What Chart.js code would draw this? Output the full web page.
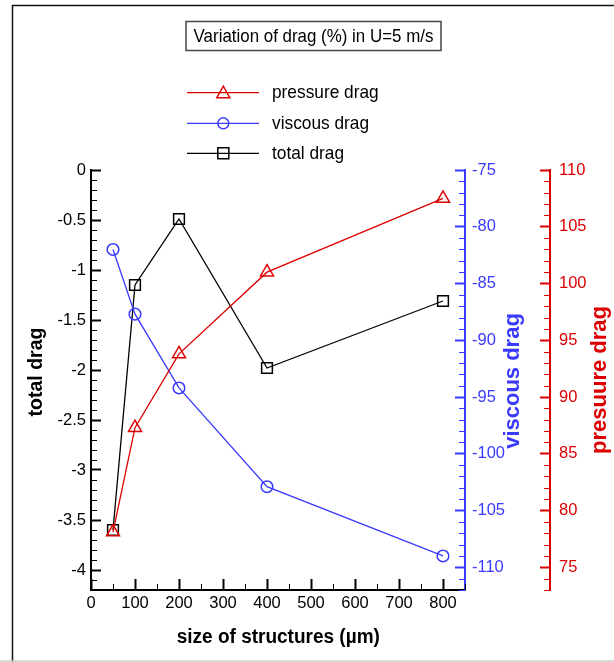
<!DOCTYPE html>
<html><head><meta charset="utf-8">
<script src="https://cdn.jsdelivr.net/npm/chart.js@4.4.0/dist/chart.umd.min.js"></script>
<style>
html,body{margin:0;padding:0;background:#fff;}
#wrap{position:relative;width:614px;height:662px;overflow:hidden;}
canvas{position:absolute;left:0;top:0;}
</style></head><body>
<div id="wrap"><canvas id="c" width="614" height="662"></canvas></div>
<script>
const sizes = [50, 100, 200, 400, 800];
const pressureDrag = [78.1, 87.3, 93.8, 101.0, 107.5];
const viscousDrag = [-82.0, -87.7, -94.2, -102.9, -109.0];
const totalDrag = [-3.60, -1.15, -0.49, -1.98, -1.31];
const seriesNames = ['pressure drag', 'viscous drag', 'total drag'];
const chartTitle = 'Variation of drag (%) in U=5 m/s';
const xAxisTitle = 'size of structures (µm)';
const yAxisTitles = ['total drag', 'viscous drag', 'presuure drag'];

const RED = '#dd0000', BLUE = '#3a3aff', BLACK = '#000000';
const FAM = '"Liberation Sans", Arial, Helvetica, sans-serif';

const toPts = ys => sizes.map((x, i) => ({x: x, y: ys[i]}));
const fmt = v => String(Math.round(v * 10) / 10);

const minorTicks = {
  id: 'minorTicks',
  afterDraw(chart) {
    const ctx = chart.ctx;
    const defs = [
      {id: 'x', step: 50, major: 100, color: BLACK},
      {id: 'y', step: 0.1, major: 0.5, color: BLACK},
      {id: 'yv', step: 1, major: 5, color: BLUE},
      {id: 'yp', step: 1, major: 5, color: RED}
    ];
    defs.forEach(d => {
      const s = chart.scales[d.id];
      ctx.save();
      ctx.strokeStyle = d.color;
      ctx.lineWidth = 1;
      const start = Math.ceil(s.min / d.step - 1e-6);
      const end = Math.floor(s.max / d.step + 1e-6);
      for (let k = start; k <= end; k++) {
        const v = k * d.step;
        const r = v / d.major;
        if (Math.abs(r - Math.round(r)) < 1e-6) continue;
        const p = Math.round(s.getPixelForValue(v)) + 0.5;
        ctx.beginPath();
        if (d.id === 'x') { ctx.moveTo(p, s.top); ctx.lineTo(p, s.top - 6); }
        else if (d.id === 'y') { ctx.moveTo(s.right, p); ctx.lineTo(s.right + 6, p); }
        else { ctx.moveTo(s.left, p); ctx.lineTo(s.left - 6, p); }
        ctx.stroke();
      }
      ctx.restore();
    });
  }
};

function marker(ctx, style, x, y, color) {
  ctx.save();
  ctx.strokeStyle = color; ctx.lineWidth = 1.5;
  ctx.beginPath();
  if (style === 'triangle') {
    ctx.moveTo(x, y - 6.5); ctx.lineTo(x + 6.5, y + 5); ctx.lineTo(x - 6.5, y + 5); ctx.closePath();
  } else if (style === 'circle') {
    ctx.arc(x, y, 5.5, 0, Math.PI * 2);
  } else {
    ctx.rect(x - 5.5, y - 5.5, 11, 11);
  }
  ctx.stroke();
  ctx.restore();
}

// text drawn slightly condensed (taller glyphs at the same width), like the reference
function condensedText(ctx, txt, x, y, font, sx, align) {
  ctx.save();
  ctx.translate(x, y);
  ctx.scale(sx, 1);
  ctx.font = font;
  ctx.textAlign = align;
  ctx.textBaseline = 'middle';
  ctx.fillText(txt, 0, 0);
  ctx.restore();
}

const decor = {
  id: 'decor',
  beforeDraw(chart) {
    const ctx = chart.ctx;
    ctx.save();
    ctx.fillStyle = '#fff'; ctx.fillRect(0, 0, 614, 662);
    ctx.strokeStyle = '#111'; ctx.lineWidth = 1.5;
    ctx.beginPath(); ctx.moveTo(12.5, 662); ctx.lineTo(12.5, 5.5); ctx.lineTo(614, 5.5); ctx.stroke();
    ctx.strokeStyle = '#cccccc'; ctx.lineWidth = 1.5;
    ctx.beginPath(); ctx.moveTo(0, 661); ctx.lineTo(614, 661); ctx.stroke();
    ctx.restore();
  },
  afterDraw(chart) {
    const ctx = chart.ctx;
    ctx.save();
    ctx.strokeStyle = '#444'; ctx.lineWidth = 1.5;
    ctx.strokeRect(186, 21.5, 255, 29);
    ctx.fillStyle = BLACK;
    condensedText(ctx, chartTitle, 313.5, 36.5, '19px ' + FAM, 0.89, 'center');
    const rows = [
      {y: 92.7, color: RED, style: 'triangle'},
      {y: 123.3, color: BLUE, style: 'circle'},
      {y: 153.3, color: BLACK, style: 'rect'}
    ];
    rows.forEach((r, i) => {
      ctx.strokeStyle = r.color; ctx.lineWidth = 1.3;
      ctx.beginPath(); ctx.moveTo(187, r.y); ctx.lineTo(259, r.y); ctx.stroke();
      marker(ctx, r.style, 223.3, r.y, r.color);
      ctx.fillStyle = BLACK;
      condensedText(ctx, seriesNames[i], 272, r.y + 0.5, '19px ' + FAM, 0.91, 'left');
    });
    ctx.fillStyle = BLACK;
    condensedText(ctx, xAxisTitle, 278.3, 637, 'bold 20px ' + FAM, 0.95, 'center');
    const rot = (txt, x, y, color, size) => {
      ctx.save();
      ctx.translate(x, y); ctx.rotate(-Math.PI / 2);
      ctx.fillStyle = color; ctx.font = 'bold ' + size + 'px ' + FAM;
      ctx.textAlign = 'center'; ctx.textBaseline = 'middle';
      ctx.fillText(txt, 0, 0);
      ctx.restore();
    };
    rot(yAxisTitles[0], 37, 372, BLACK, 19.5);
    rot(yAxisTitles[1], 513, 381, BLUE, 22);
    rot(yAxisTitles[2], 599.5, 380, RED, 22);
    ctx.restore();
  }
};

const ds = (label, ys, axis, color, style, radius) => ({
  label: label, data: toPts(ys), yAxisID: axis,
  borderColor: color, borderWidth: 1.3, tension: 0, fill: false,
  pointStyle: style, pointRadius: radius, pointHoverRadius: radius,
  pointBorderColor: color, pointBackgroundColor: 'rgba(0,0,0,0)', pointBorderWidth: 1.5
});

const tickFont = {family: FAM, size: 16.5};

new Chart(document.getElementById('c'), {
  type: 'line',
  data: {
    datasets: [
      ds(seriesNames[0], pressureDrag, 'yp', RED, 'triangle', 7.5),
      ds(seriesNames[1], viscousDrag, 'yv', BLUE, 'circle', 5.8),
      ds(seriesNames[2], totalDrag, 'y', BLACK, 'rect', 7.6)
    ]
  },
  options: {
    responsive: false, animation: false, devicePixelRatio: 1,
    layout: {padding: {top: 170, left: 0, right: 0, bottom: 0}},
    plugins: {legend: {display: false}, tooltip: {enabled: false}, title: {display: false}},
    scales: {
      x: {
        type: 'linear', position: 'bottom', min: 0, max: 850,
        afterFit: s => { s.height = 72; },
        ticks: {stepSize: 100, includeBounds: false, color: BLACK, font: tickFont, padding: 15, maxRotation: 0, autoSkip: false, callback: fmt},
        grid: {drawOnChartArea: false, drawTicks: true, tickLength: -11, tickColor: BLACK, tickWidth: 2},
        border: {display: true, color: BLACK, width: 2}
      },
      y: {
        type: 'linear', position: 'left', min: -4.2, max: 0,
        afterFit: s => { s.width = 91; },
        ticks: {stepSize: 0.5, includeBounds: false, color: BLACK, font: tickFont, padding: 15, autoSkip: false, callback: fmt},
        grid: {drawOnChartArea: false, drawTicks: true, tickLength: -10, tickColor: BLACK, tickWidth: 2},
        border: {display: true, color: BLACK, width: 2}
      },
      yv: {
        type: 'linear', position: 'right', weight: 1, min: -112, max: -75,
        afterFit: s => { s.width = 85; },
        ticks: {stepSize: 5, includeBounds: false, color: BLUE, font: tickFont, padding: 17, autoSkip: false, callback: fmt},
        grid: {drawOnChartArea: false, drawTicks: true, tickLength: -10, tickColor: BLUE, tickWidth: 2},
        border: {display: true, color: BLUE, width: 2}
      },
      yp: {
        type: 'linear', position: 'right', weight: 2, min: 73, max: 110,
        afterFit: s => { s.width = 64; },
        ticks: {stepSize: 5, includeBounds: false, color: RED, font: tickFont, padding: 19, autoSkip: false, callback: fmt},
        grid: {drawOnChartArea: false, drawTicks: true, tickLength: -10, tickColor: RED, tickWidth: 2},
        border: {display: true, color: RED, width: 2}
      }
    }
  },
  plugins: [minorTicks, decor]
});
</script>
</body></html>
